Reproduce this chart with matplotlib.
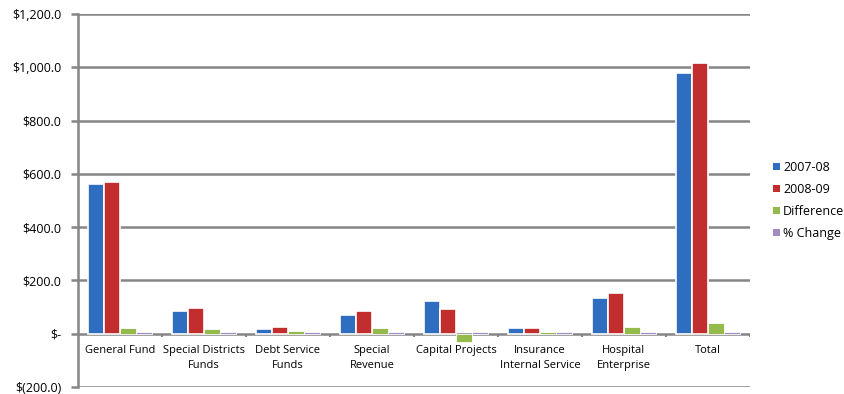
import matplotlib
matplotlib.use("Agg")
import matplotlib.pyplot as plt
import numpy as np

categories = ["General Fund", "Special Districts\nFunds", "Debt Service\nFunds", "Special\nRevenue",
              "Capital Projects", "Insurance\nInternal Service", "Hospital\nEnterprise", "Total"]
fy0708 = [562, 84, 17, 71, 124, 21, 134, 980]
fy0809 = [571, 96, 27, 86, 94, 21, 153, 1015]
difference = [20, 18, 12, 20, -30, 8, 25, 40]
pct_change = [6, 6, 6, 6, 6, 6, 6, 6]

series = [
    (fy0708, "2007-08", "#2f6dc0", 1.2),
    (fy0809, "2008-09", "#c22e2d", 1.2),
    (difference, "Difference", "#95ba4c", 0.6),
    (pct_change, "% Change", "#a08cc0", 0.6),
]

def money(v):
    if v == 0:
        return "$-"
    if v < 0:
        return f"$({-v:,.1f})"
    return f"${v:,.1f}"

fig = plt.figure(figsize=(8.44, 3.94), dpi=100)
ax = fig.add_axes([0.0924, 0.0178, 0.796, 0.9467])

x = np.arange(len(categories))
w = 0.19
for i, (vals, name, color, lw) in enumerate(series):
    ax.bar(x + (i - 1.5) * w, vals, w, color=color, edgecolor="white",
           linewidth=lw, label=name, zorder=3)

grey = "#858585"
ax.set_ylim(-200, 1200)
ax.set_xlim(-0.5, len(categories) - 0.5)
ticks = list(range(-200, 1201, 200))
ax.set_yticks(ticks)
ax.set_yticklabels([money(t) for t in ticks], fontsize=9, family="Open Sans")
ax.yaxis.grid(True, color=grey, linewidth=1.8, zorder=1)
ax.tick_params(axis="y", length=5, width=1.8, color=grey, pad=7)
ax.set_xticks([])
for side in ["top", "right", "bottom"]:
    ax.spines[side].set_visible(False)
ax.spines["left"].set_color(grey)
ax.spines["left"].set_linewidth(1.8)

# small tick marks between categories on the zero line
ax.vlines(np.arange(1, len(categories) + 1) - 0.5, -14, 0, color=grey, linewidth=1.5, zorder=2)

for xi, label in zip(x, categories):
    ax.text(xi, -44, label, ha="center", va="top", fontsize=8,
            family="Open Sans", linespacing=1.4)

leg = ax.legend(loc="center left", bbox_to_anchor=(1.018, 0.50), frameon=False,
                prop={"family": "Open Sans", "size": 9},
                handlelength=0.55, handleheight=0.55, handletextpad=0.25, labelspacing=0.72)
for h in leg.legend_handles:
    h.set_linewidth(0)

fig.savefig("out.png", dpi=100)
